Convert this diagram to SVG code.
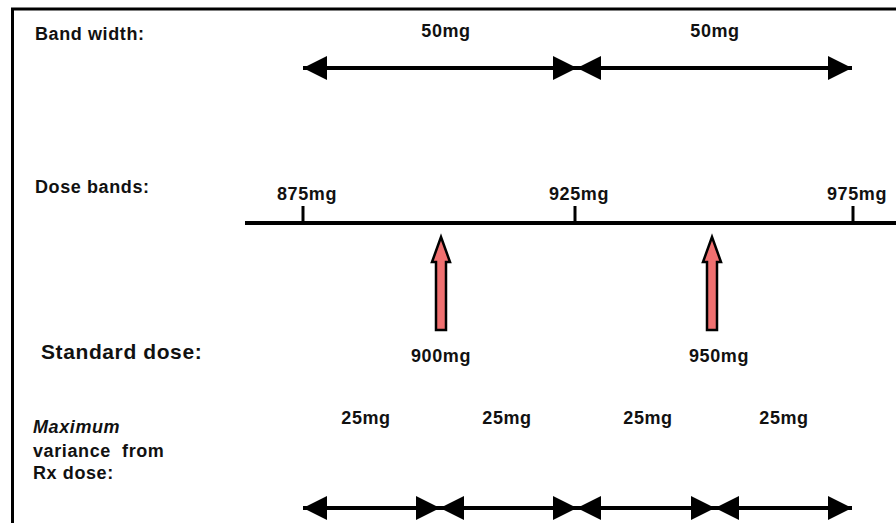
<svg xmlns="http://www.w3.org/2000/svg" width="896" height="523" viewBox="0 0 896 523">
<defs>
<style>
text{font-family:"Liberation Sans",Arial,sans-serif;font-weight:bold;fill:#111;font-size:18px;letter-spacing:0.6px}
.c{text-anchor:middle}
.big{font-size:21px}
.ln{stroke:#000;stroke-width:4;fill:none}
.red{fill:#f07070;stroke:#000;stroke-width:2.5;stroke-linejoin:miter}
</style>
<marker id="ah" viewBox="0 0 10 10" refX="10" refY="5" markerWidth="6" markerHeight="6" orient="auto-start-reverse" markerUnits="strokeWidth">
<path d="M0,0 L10,5 L0,10 Z" fill="#000"/>
</marker>
</defs>
<rect x="0" y="0" width="896" height="523" fill="#fff"/>
<rect x="12.5" y="9" width="900" height="530" fill="none" stroke="#000" stroke-width="3"/>
<g id="labels">
<text x="35" y="40">Band width:</text>
<text x="35" y="193">Dose bands:</text>
<text x="41" y="359" class="big">Standard dose:</text>
<text x="33" y="433" font-style="italic">Maximum</text>
<text x="33" y="457">variance&#160; from</text>
<text x="33" y="479">Rx dose:</text>
</g>
<g id="connectors">
<line class="ln" x1="303" y1="68" x2="577" y2="68" marker-start="url(#ah)" marker-end="url(#ah)"/>
<line class="ln" x1="577" y1="68" x2="852" y2="68" marker-start="url(#ah)" marker-end="url(#ah)"/>
<line class="ln" x1="303" y1="508" x2="440" y2="508" marker-start="url(#ah)" marker-end="url(#ah)"/>
<line class="ln" x1="440" y1="508" x2="577" y2="508" marker-start="url(#ah)" marker-end="url(#ah)"/>
<line class="ln" x1="577" y1="508" x2="715" y2="508" marker-start="url(#ah)" marker-end="url(#ah)"/>
<line class="ln" x1="715" y1="508" x2="852" y2="508" marker-start="url(#ah)" marker-end="url(#ah)"/>
</g>
<g id="bandwidth">
<text class="c" x="446" y="37">50mg</text>
<text class="c" x="715" y="37">50mg</text>
</g>
<g id="doseline">
<line x1="245" y1="223" x2="896" y2="223" stroke="#000" stroke-width="4"/>
<line x1="303" y1="206" x2="303" y2="223" stroke="#000" stroke-width="3"/>
<line x1="575" y1="206" x2="575" y2="223" stroke="#000" stroke-width="3"/>
<line x1="853" y1="206" x2="853" y2="223" stroke="#000" stroke-width="3"/>
<text class="c" x="307" y="200">875mg</text>
<text class="c" x="579" y="200">925mg</text>
<text class="c" x="857" y="200">975mg</text>
</g>
<g id="std900">
<path class="red" d="M441,237 L450,262 L446,262 L446,330 L436,330 L436,262 L432,262 Z"/>
<text class="c" x="441" y="362">900mg</text>
</g>
<g id="std950">
<path class="red" d="M712,237 L721,262 L717,262 L717,330 L707,330 L707,262 L703,262 Z"/>
<text class="c" x="719" y="362">950mg</text>
</g>
<g id="variance">
<text class="c" x="366" y="424">25mg</text>
<text class="c" x="507" y="424">25mg</text>
<text class="c" x="648" y="424">25mg</text>
<text class="c" x="784" y="424">25mg</text>
</g>
</svg>
